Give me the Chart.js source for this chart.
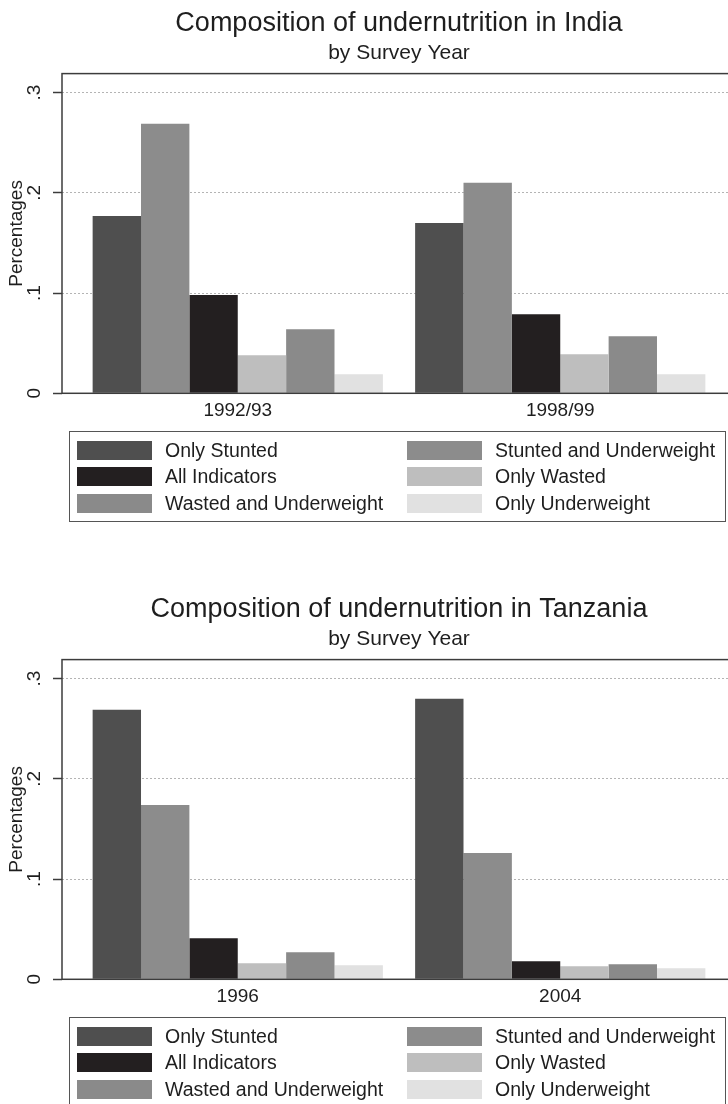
<!DOCTYPE html>
<html>
<head>
<meta charset="utf-8">
<title>Composition of undernutrition</title>
<script src="https://cdn.jsdelivr.net/npm/chart.js@4.4.1/dist/chart.umd.min.js"></script>
<style>
  body { margin: 0; width: 728px; height: 1104px; overflow: hidden; background: #fff;
         font-family: "Liberation Sans", Arial, Helvetica, sans-serif; color: #1e1e1e; }
  .panel { position: absolute; left: 0; width: 736px; height: 586px; }
  .panel canvas { position: absolute; left: 0; top: 0; }
  .legend { position: absolute; left: 69px; top: 431px; width: 657px; box-sizing: border-box;
            border: 1px solid #555; padding: 4.75px 0 5px 7px;
            display: grid; grid-template-columns: 330px auto; font-size: 19.5px; }
  .legend .item { display: flex; align-items: center; height: 26.5px; white-space: nowrap; }
  .legend .swatch { width: 75px; height: 19px; margin-right: 13px; flex: none; }
</style>
</head>
<body>
<div class="panel" style="top:0"><canvas id="india" width="736" height="434"></canvas><div class="legend" id="india-legend"></div></div>
<div class="panel" style="top:586px"><canvas id="tanzania" width="736" height="434"></canvas><div class="legend" id="tanzania-legend"></div></div>
<script>
// survey rounds
const indiaYears = ['1992/93', '1998/99'];
const tanzaniaYears = ['1996', '2004'];

// undernutrition groups, in the order the bars are drawn
const groups = ['Only Stunted', 'Stunted and Underweight', 'All Indicators',
                'Only Wasted', 'Wasted and Underweight', 'Only Underweight'];

// share of children in each group, one value per survey round
const indiaOnlyStunted = [0.177, 0.170];
const indiaStuntedUnderweight = [0.269, 0.210];
const indiaAllIndicators = [0.098, 0.079];
const indiaOnlyWasted = [0.038, 0.039];
const indiaWastedUnderweight = [0.064, 0.057];
const indiaOnlyUnderweight = [0.019, 0.019];

const tanzaniaOnlyStunted = [0.269, 0.280];
const tanzaniaStuntedUnderweight = [0.174, 0.126];
const tanzaniaAllIndicators = [0.041, 0.018];
const tanzaniaOnlyWasted = [0.016, 0.013];
const tanzaniaWastedUnderweight = [0.027, 0.015];
const tanzaniaOnlyUnderweight = [0.014, 0.011];

const yTicks = [0, 0.1, 0.2, 0.3];

// greys of the print scheme
const fills = ['#4f4f4f', '#8c8c8c', '#231f20', '#bebebe', '#8a8a8a', '#e1e1e1'];
const ink = '#1e1e1e';
const frameColor = '#3c3c3c';
const fontFamily = '"Liberation Sans", Arial, Helvetica, sans-serif';

// box round the plot region, drawn after the bars so the axis line stays on top
const plotFrame = {
  id: 'plotFrame',
  afterDatasetsDraw(chart) {
    const a = chart.chartArea;
    const ctx = chart.ctx;
    ctx.save();
    ctx.strokeStyle = frameColor;
    ctx.lineWidth = 1.5;
    ctx.strokeRect(a.left, a.top, a.right - a.left, a.bottom - a.top);
    ctx.restore();
  }
};

function yLabel(v) {
  return v === 0 ? '0' : v.toFixed(1).replace(/^0/, '');
}

function drawPanel(canvasId, legendId, country, years, series) {
  const datasets = series.map((vals, i) => ({
    label: groups[i],
    data: vals.map((v, j) => ({ x: j, y: v })),
    backgroundColor: fills[i],
    borderWidth: 0
  }));

  const chart = new Chart(document.getElementById(canvasId), {
    type: 'bar',
    data: { datasets: datasets },
    options: {
      responsive: false,
      animation: false,
      devicePixelRatio: 1,
      datasets: { bar: { categoryPercentage: 0.9, barPercentage: 1 } },
      plugins: {
        legend: { display: false },
        tooltip: { enabled: false },
        title: {
          display: true, fullSize: false,
          text: 'Composition of undernutrition in ' + country,
          color: ink, font: { family: fontFamily, size: 27, weight: 'normal' },
          padding: { top: 7, bottom: 0 }
        },
        subtitle: {
          display: true, fullSize: false,
          text: 'by Survey Year',
          color: ink, font: { family: fontFamily, size: 21 },
          padding: { top: 1, bottom: 8 }
        }
      },
      scales: {
        x: {
          type: 'linear', min: -0.545, max: 1.545, offset: false,
          grid: { display: false, drawTicks: false },
          border: { display: false },
          afterBuildTicks: s => { s.ticks = years.map((_, i) => ({ value: i })); },
          afterFit: s => { s.height = 40.7; },
          ticks: {
            autoSkip: false, maxRotation: 0, padding: 6.5,
            color: ink, font: { family: fontFamily, size: 19 },
            callback: v => years[v]
          }
        },
        y: {
          min: 0, max: 0.319,
          afterBuildTicks: s => { s.ticks = yTicks.map(v => ({ value: v })); },
          afterFit: s => { s.width = 62; },
          grid: { color: '#b4b4b4', lineWidth: 1, tickLength: 9, tickColor: frameColor,
                  tickWidth: 1.5, tickBorderDash: [] },
          border: { display: false, dash: [2, 2] },
          ticks: {
            minRotation: 90, maxRotation: 90, crossAlign: 'center', padding: 10,
            color: ink, font: { family: fontFamily, size: 19 },
            callback: yLabel
          },
          title: {
            display: true, text: 'Percentages', color: ink,
            font: { family: fontFamily, size: 19 }, padding: { top: 5, bottom: 0 }
          }
        }
      }
    },
    plugins: [plotFrame]
  });

  // two-column legend underneath, filled row by row
  const box = document.getElementById(legendId);
  chart.data.datasets.forEach(ds => {
    const item = document.createElement('div');
    item.className = 'item';
    const sw = document.createElement('span');
    sw.className = 'swatch';
    sw.style.background = ds.backgroundColor;
    item.appendChild(sw);
    item.appendChild(document.createTextNode(ds.label));
    box.appendChild(item);
  });
  return chart;
}

drawPanel('india', 'india-legend', 'India', indiaYears, [
  indiaOnlyStunted, indiaStuntedUnderweight, indiaAllIndicators,
  indiaOnlyWasted, indiaWastedUnderweight, indiaOnlyUnderweight
]);

drawPanel('tanzania', 'tanzania-legend', 'Tanzania', tanzaniaYears, [
  tanzaniaOnlyStunted, tanzaniaStuntedUnderweight, tanzaniaAllIndicators,
  tanzaniaOnlyWasted, tanzaniaWastedUnderweight, tanzaniaOnlyUnderweight
]);
</script>
</body>
</html>
